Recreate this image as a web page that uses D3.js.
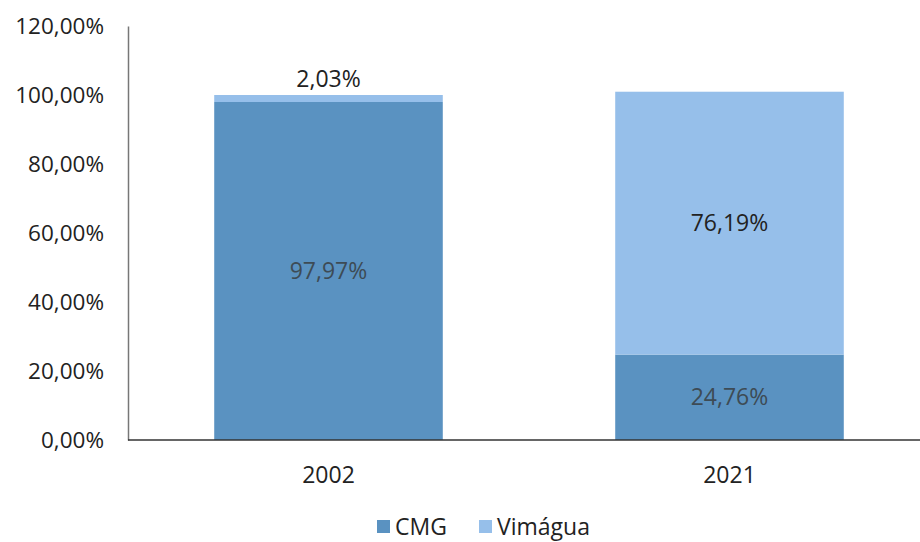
<!DOCTYPE html>
<html><head><meta charset="utf-8">
<script src="https://cdn.jsdelivr.net/npm/d3@7"></script>
<style>body{margin:0;background:#fff}svg{display:block}text{font-family:"Open Sans",sans-serif}</style>
</head><body><svg id="c" width="920" height="542"></svg>
<script>
const categories = ["2002", "2021"];
const seriesNames = ["CMG", "Vimágua"];
const cmgValues = [97.97, 24.76];
const vimaguaValues = [2.03, 76.19];
const yTicks = [0, 20, 40, 60, 80, 100, 120];
const fmt = v => d3.format(".2f")(v).replace(".", ",") + "%";

const colors = {CMG: "#5a92c1", "Vimágua": "#96bfea"};
const svg = d3.select("#c");
const x = d3.scaleBand().domain(categories).range([128, 930]).paddingInner(0.43).paddingOuter(0.215);
const y = d3.scaleLinear().domain([0, 120]).range([440, 26]);

const data = categories.map((c, i) => ({cat: c, CMG: cmgValues[i], "Vimágua": vimaguaValues[i]}));
const stacked = d3.stack().keys(seriesNames)(data);

// axes
const yAxis = svg.append("g").attr("transform", "translate(128,0)")
  .call(d3.axisLeft(y).tickValues(yTicks).tickFormat(fmt).tickSize(0).tickPadding(24));
yAxis.select(".domain").attr("stroke", "#777").attr("stroke-width", 1.5);
yAxis.selectAll("text").attr("font-size", 22.5).attr("fill", "#222").attr("dy", "0.35em");

stacked.forEach(s => {
  svg.append("g").selectAll("rect").data(s).join("rect")
    .attr("x", d => x(d.data.cat)).attr("width", x.bandwidth())
    .attr("y", d => y(d[1])).attr("height", d => y(d[0]) - y(d[1]))
    .attr("fill", colors[s.key]);
});

const xAxis = svg.append("g").attr("transform", "translate(0,440)")
  .call(d3.axisBottom(x).tickSize(0).tickPadding(27));
xAxis.select(".domain").attr("d", "M128,0H920").attr("stroke", "#333").attr("stroke-width", 1.5);
xAxis.selectAll("text").attr("font-size", 23).attr("fill", "#222");

// labels
const labelG = svg.append("g");
data.forEach((d, i) => {
  const cx = x(d.cat) + x.bandwidth() / 2;
  labelG.append("text").attr("x", cx).attr("y", y(d.CMG / 2)).attr("dy", "0.35em")
    .attr("text-anchor", "middle").attr("font-size", 23).attr("fill", "#3d4b55").text(fmt(d.CMG));
  const top = d.CMG + d["Vimágua"];
  const small = d["Vimágua"] < 10;
  const vy = small ? y(top) - 8 : y(d.CMG + d["Vimágua"] / 2);
  labelG.append("text").attr("x", cx).attr("y", vy).attr("dy", small ? "0" : "0.35em")
    .attr("text-anchor", "middle").attr("font-size", 23).attr("fill", "#222").text(fmt(d["Vimágua"]));
});

// legend
const leg = svg.append("g").attr("transform", "translate(377,527)");
const items = [{k: "CMG", x: 0}, {k: "Vimágua", x: 102}];
items.forEach(it => {
  leg.append("rect").attr("x", it.x).attr("y", -7).attr("width", 13).attr("height", 13).attr("fill", colors[it.k]);
  leg.append("text").attr("x", it.x + 18).attr("y", 0).attr("dy", "0.35em").attr("font-size", 23).attr("fill", "#222").text(it.k);
});
</script></body></html>
